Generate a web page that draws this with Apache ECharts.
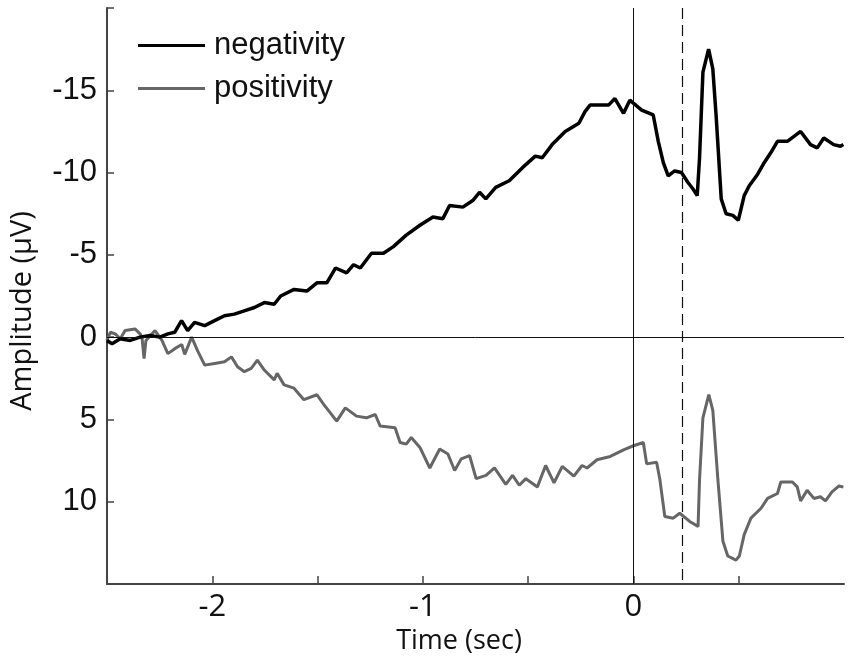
<!DOCTYPE html>
<html>
<head>
<meta charset="utf-8">
<script src="https://cdn.jsdelivr.net/npm/echarts@6/dist/echarts.min.js"></script>
<style>
html,body{margin:0;padding:0;background:#fff;}
#chart{width:850px;height:662px;}
</style>
</head>
<body>
<div id="chart"></div>
<script>
// negativity (black) trace: time in sec, amplitude in µV
var negTime = [-2.5,-2.476,-2.437,-2.390,-2.343,-2.296,-2.249,-2.211,-2.178,-2.146,-2.117,-2.084,-2.036,-1.989,-1.942,-1.895,-1.848,-1.800,-1.753,-1.706,-1.675,-1.612,-1.551,-1.503,-1.456,-1.415,-1.362,-1.329,-1.297,-1.244,-1.187,-1.140,-1.079,-1.014,-0.952,-0.905,-0.873,-0.810,-0.763,-0.731,-0.701,-0.654,-0.590,-0.527,-0.466,-0.433,-0.386,-0.324,-0.259,-0.230,-0.206,-0.149,-0.118,-0.088,-0.079,-0.047,-0.017,0.001,0.039,0.094,0.118,0.142,0.165,0.196,0.228,0.259,0.283,0.303,0.314,0.330,0.357,0.377,0.393,0.417,0.440,0.472,0.498,0.526,0.550,0.590,0.621,0.652,0.684,0.731,0.794,0.841,0.873,0.904,0.951,0.983,0.997];
var negAmp = [0.2,0.4,0.1,0.2,0.0,-0.1,0.0,-0.2,-0.3,-1.0,-0.4,-0.9,-0.7,-1.0,-1.3,-1.4,-1.6,-1.8,-2.1,-2.0,-2.5,-2.9,-2.8,-3.3,-3.3,-4.2,-3.9,-4.4,-4.2,-5.1,-5.1,-5.5,-6.2,-6.8,-7.3,-7.2,-8.0,-7.9,-8.3,-8.8,-8.4,-9.1,-9.5,-10.3,-11.0,-10.9,-11.7,-12.5,-13.0,-13.7,-14.1,-14.1,-14.1,-14.5,-14.5,-13.6,-14.4,-14.2,-13.8,-13.5,-11.9,-10.6,-9.8,-10.1,-10.0,-9.4,-9.0,-8.6,-10.9,-16.1,-17.5,-16.3,-13.4,-8.4,-7.5,-7.4,-7.1,-8.6,-9.2,-9.9,-10.6,-11.2,-11.9,-11.9,-12.5,-11.7,-11.5,-12.1,-11.7,-11.6,-11.7];

// positivity (grey) trace
var posTime = [-2.5,-2.484,-2.461,-2.437,-2.414,-2.367,-2.343,-2.334,-2.324,-2.315,-2.272,-2.239,-2.211,-2.178,-2.145,-2.131,-2.098,-2.069,-2.036,-1.989,-1.942,-1.909,-1.880,-1.848,-1.815,-1.786,-1.753,-1.706,-1.692,-1.659,-1.612,-1.565,-1.503,-1.470,-1.409,-1.368,-1.315,-1.268,-1.226,-1.203,-1.132,-1.108,-1.079,-1.055,-1.014,-0.967,-0.920,-0.881,-0.849,-0.818,-0.778,-0.747,-0.700,-0.660,-0.606,-0.574,-0.542,-0.511,-0.456,-0.417,-0.377,-0.338,-0.283,-0.244,-0.220,-0.173,-0.110,-0.047,0.0,0.047,0.063,0.110,0.125,0.149,0.189,0.220,0.267,0.307,0.314,0.330,0.358,0.377,0.401,0.425,0.448,0.487,0.503,0.526,0.558,0.606,0.637,0.684,0.700,0.755,0.778,0.794,0.825,0.857,0.888,0.912,0.943,0.975,0.997];
var posAmp = [0.2,-0.3,-0.2,0.1,-0.4,-0.5,-0.2,0.0,1.3,0.2,-0.4,0.2,1.0,0.7,0.45,1.05,0.0,0.85,1.7,1.6,1.5,1.2,1.8,2.1,1.9,1.4,2.0,2.6,2.2,2.9,3.1,3.8,3.5,4.1,5.1,4.3,4.8,4.9,4.7,5.4,5.5,6.4,6.5,6.1,6.7,7.95,6.8,7.1,8.1,7.4,7.2,8.6,8.4,7.95,8.95,8.4,9.0,8.6,9.1,7.8,8.85,7.85,8.45,7.8,7.95,7.45,7.25,6.85,6.6,6.4,7.7,7.6,8.6,10.9,11.0,10.7,11.2,11.5,8.65,4.9,3.5,4.45,8.65,12.4,13.3,13.55,13.3,12.0,11.0,10.4,9.8,9.5,8.8,8.8,9.1,9.95,9.3,9.8,9.7,9.95,9.4,9.05,9.1];

var seriesNames = ['negativity', 'positivity'];
var xTickLabels = [-2, -1, 0];
var yTickLabels = [-15, -10, -5, 0, 5, 10];
var stimulusTime = 0;
var responseTime = 0.23;

function pairs(t, v) { return t.map(function (x, i) { return [x, v[i]]; }); }

var chart = echarts.init(document.getElementById('chart'), null, {renderer: 'canvas'});
var axisFont = '"Liberation Sans", Arial, sans-serif';
chart.setOption({
  animation: false,
  backgroundColor: '#ffffff',
  grid: {left: 102, right: 6, top: 8, bottom: 78, containLabel: false},
  legend: {
    orient: 'vertical',
    left: 138,
    top: 30,
    padding: 0,
    itemWidth: 67,
    itemHeight: 3,
    itemGap: 12,
    icon: 'rect',
    textStyle: {fontFamily: axisFont, fontSize: 31, color: '#111', lineHeight: 30, padding: [0, 0, 0, 4]},
    data: [
      {name: seriesNames[0], itemStyle: {color: '#000'}},
      {name: seriesNames[1], itemStyle: {color: '#666'}}
    ]
  },
  xAxis: {
    type: 'value',
    min: -2.5,
    max: 1.0,
    interval: 0.5,
    name: 'Time (sec)',
    nameLocation: 'middle',
    nameGap: 42,
    nameTextStyle: {fontFamily: '"Open Sans", sans-serif', fontSize: 27, color: '#111', padding: [0, 33, 0, 0]},
    axisLine: {show: true, onZero: false, lineStyle: {color: '#444', width: 2}},
    axisTick: {show: true, inside: true, length: 8, lineStyle: {color: '#444', width: 1.5}},
    axisLabel: {
      margin: 8,
      fontFamily: '"Open Sans", sans-serif',
      fontSize: 31,
      color: '#111',
      showMaxLabel: false,
      formatter: function (v) { return xTickLabels.indexOf(Math.round(v * 100) / 100) >= 0 ? String(v) : ''; }
    },
    splitLine: {show: false}
  },
  yAxis: {
    type: 'value',
    inverse: true,
    min: -20,
    max: 15,
    interval: 5,
    name: 'Amplitude (µV)',
    nameLocation: 'middle',
    nameGap: 70,
    nameRotate: 90,
    nameTextStyle: {fontFamily: '"Open Sans", sans-serif', fontSize: 29, color: '#111', padding: [0, 30, 0, 0]},
    axisLine: {show: true, onZero: false, lineStyle: {color: '#444', width: 2}},
    axisTick: {show: true, inside: true, length: 7, lineStyle: {color: '#444', width: 1.5}},
    axisLabel: {
      margin: 10,
      fontFamily: axisFont,
      fontSize: 31,
      color: '#111',
      formatter: function (v) { return yTickLabels.indexOf(v) >= 0 ? String(v) : ''; }
    },
    splitLine: {show: false}
  },
  series: [
    {
      name: seriesNames[1],
      type: 'line',
      data: pairs(posTime, posAmp),
      showSymbol: false,
      symbol: 'none',
      color: '#666',
      lineStyle: {color: '#666', width: 3},
      z: 3
    },
    {
      name: seriesNames[0],
      type: 'line',
      data: pairs(negTime, negAmp),
      showSymbol: false,
      symbol: 'none',
      color: '#000',
      lineStyle: {color: '#000', width: 3.5},
      z: 4,
      markLine: {
        silent: true,
        symbol: ['none', 'none'],
        label: {show: false},
        lineStyle: {color: '#111', width: 1, type: 'solid'},
        data: [
          {yAxis: 0},
          {xAxis: stimulusTime},
          {xAxis: responseTime, lineStyle: {type: [11, 6], color: '#111', width: 1.2}}
        ]
      }
    }
  ]
});
</script>
</body>
</html>
